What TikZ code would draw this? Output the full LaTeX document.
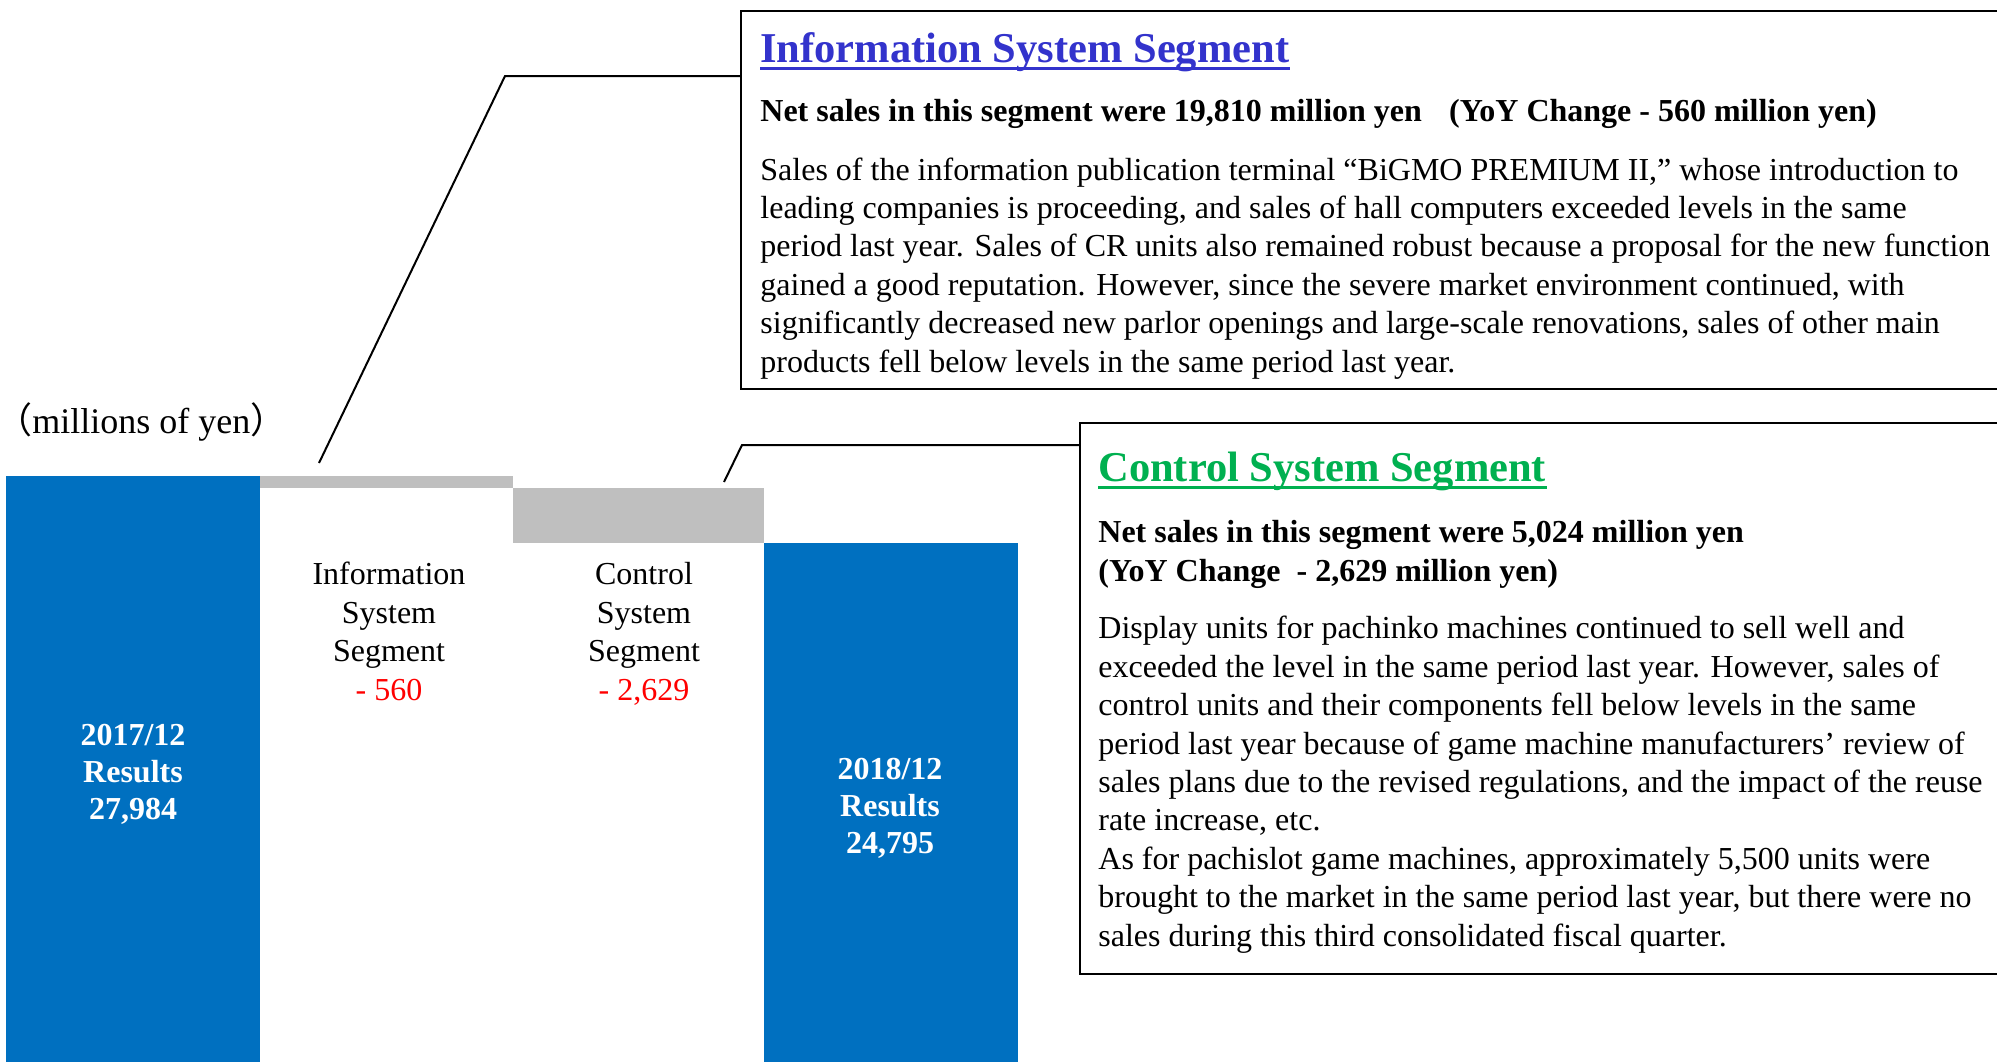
\documentclass[tikz,border=0pt]{standalone}
\usepackage{fontspec}
\setmainfont{Liberation Serif}
\newfontfamily\cjk{Noto Sans CJK JP}
\definecolor{barblue}{HTML}{0070C0}
\definecolor{bargray}{HTML}{BFBFBF}
\definecolor{titleblue}{HTML}{3333CC}
\definecolor{titlegreen}{HTML}{00B050}
\definecolor{minusred}{HTML}{FF0000}
\tikzset{
  bar/.style={inner sep=0, outer sep=0, anchor=north west},
  txtbox/.style={draw=black, line width=1pt, inner sep=0, anchor=north west},
  body/.style={inner sep=0, anchor=base west, align=left, font=\fontsize{16}{19.2}\selectfont},
  sub/.style={inner sep=0, anchor=base west, align=left, font=\bfseries\fontsize{16}{19.5}\selectfont},
  ttl/.style={inner sep=0, anchor=base west, font=\bfseries\fontsize{21.25}{25}\selectfont},
  lbl/.style={inner sep=0, anchor=base, align=center, font=\fontsize{16}{19.2}\selectfont},
  barlbl/.style={inner sep=0, anchor=base, align=center, text=white, font=\bfseries\fontsize{16}{18.5}\selectfont},
  conn/.style={draw=black, line width=1pt},
}
\begin{document}
\begin{tikzpicture}[x=0.5pt,y=-0.5pt]
\useasboundingbox (0,0) rectangle (1997,1061);
\clip (0,0) rectangle (1997,1061);
\fill[white] (0,0) rectangle (1997,1061);

% bars
\node[bar, fill=barblue, minimum width=127pt, minimum height=295pt] (b1) at (6,476) {};
\node[bar, fill=bargray, minimum width=126.5pt, minimum height=6pt] (g1) at (260,476) {};
\node[bar, fill=bargray, minimum width=125.5pt, minimum height=27.5pt] (g2) at (513,488) {};
\node[bar, fill=barblue, minimum width=127pt, minimum height=262pt] (b2) at (764,543) {};

% axis unit
\node[inner sep=0, anchor=base west, font=\fontsize{18}{21}\selectfont] (unit) at (-4,433) {{\cjk （}millions of yen{\cjk ）}};

% bar labels (anchored at the last line's baseline)
\node[barlbl] (b1t) at (133,819) {2017/12\\Results\\27,984};
\node[barlbl] (b2t) at (890,853) {2018/12\\Results\\24,795};
\node[lbl] (g1t) at (389,700) {Information\\System\\Segment\\\textcolor{minusred}{- 560}};
\node[lbl] (g2t) at (644,700) {Control\\System\\Segment\\\textcolor{minusred}{- 2,629}};

% text boxes
\node[txtbox, minimum width=640pt, minimum height=189pt] (box1) at (740,10) {};
\node[txtbox, minimum width=470pt, minimum height=275.5pt] (box2) at (1079,422) {};

% connectors
\coordinate (c1a) at (319,463);
\coordinate (c1b) at (505,76);
\coordinate (c2a) at (724,482);
\coordinate (c2b) at (742,445);
\draw[conn] (c1a) -- (c1b) -- (c1b -| box1.west);
\draw[conn] (c2a) -- (c2b) -- (c2b -| box2.west);

% box 1 text
\node[ttl, text=titleblue] (t1) at (760,62) {Information System Segment};
\draw[titleblue, line width=1.5pt] ([yshift=-3pt]t1.base west) -- ([yshift=-3pt]t1.base east);
\node[sub] (s1) at (760,121) {Net sales in this segment were 19,810 million yen\hspace{0.85em}(YoY Change - 560 million yen)};
\node[body] (p1) at (760,372) {Sales of the information publication terminal “BiGMO PREMIUM II,” whose introduction to\\
leading companies is proceeding, and sales of hall computers exceeded levels in the same\\
period last year. Sales of CR units also remained robust because a proposal for the new function\\
gained a good reputation. However, since the severe market environment continued, with\\
significantly decreased new parlor openings and large-scale renovations, sales of other main\\
products fell below levels in the same period last year.};

% box 2 text
\node[ttl, text=titlegreen] (t2) at (1098,481) {Control System Segment};
\draw[titlegreen, line width=1.5pt] ([yshift=-3pt]t2.base west) -- ([yshift=-3pt]t2.base east);
\node[sub] (s2) at (1098,581) {Net sales in this segment were 5,024 million yen\\(YoY Change\ \ - 2,629 million yen)};
\node[body] (p2) at (1098,946) {Display units for pachinko machines continued to sell well and\\
exceeded the level in the same period last year. However, sales of\\
control units and their components fell below levels in the same\\
period last year because of game machine manufacturers’ review of\\
sales plans due to the revised regulations, and the impact of the reuse\\
rate increase, etc.\\
As for pachislot game machines, approximately 5,500 units were\\
brought to the market in the same period last year, but there were no\\
sales during this third consolidated fiscal quarter.};
\end{tikzpicture}
\end{document}
